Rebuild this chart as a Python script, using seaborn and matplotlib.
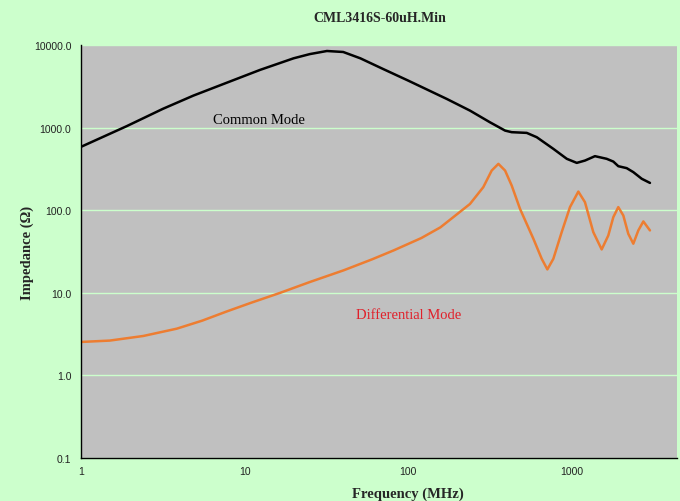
import matplotlib
matplotlib.use("Agg")
import matplotlib.pyplot as plt
import matplotlib.ticker as mticker
import seaborn as sns
import pandas as pd

# ---- data ----
cm_freq = [1.0, 1.9, 3.17, 4.86, 7.5, 12.4, 19.9, 25, 31.8, 40, 50.9, 70, 100, 172,
           238, 315, 390, 428, 529, 609, 769, 929, 1069, 1200, 1381, 1628, 1788,
           1918, 2158, 2369, 2668, 2994]
cm_imp = [585, 1040, 1690, 2440, 3400, 4990, 6900, 7760, 8460, 8230, 6900, 5130, 3700,
          2220, 1606, 1161, 920, 880, 863, 765, 553, 419, 374, 399, 451, 419, 388,
          341, 323, 289, 240, 214]

dm_freq = [1.0, 1.5, 2.4, 3.85, 5.5, 7.78, 11, 16.5, 25, 40.2, 60, 81.3, 120, 157,
           238, 287, 323, 355, 390, 428, 481, 581, 653, 707, 769, 865, 972, 1093,
           1200, 1349, 1518, 1666, 1788, 1918, 2058, 2207, 2369, 2542, 2728, 2994]
dm_imp = [2.54, 2.64, 3.0, 3.68, 4.6, 5.95, 7.6, 10.0, 13.5, 18.7, 25.4, 32.6, 46, 62,
          119, 190, 302, 364, 302, 199, 104, 45, 25.8, 19.2, 25.8, 54.3, 109, 168,
          125, 54.3, 33.5, 49.4, 82.4, 109, 86.3, 51.8, 39.3, 56.9, 73.1, 56.9]

title = "CML3416S-60uH.Min"
xlabel = "Frequency (MHz)"
ylabel = "Impedance (\u03a9)"
yticks = [0.1, 1, 10, 100, 1000, 10000]
ytick_labels = ["0.1", "1.0", "10.0", "100.0", "1000.0", "10000.0"]
xticks = [1, 10, 100, 1000]
xtick_labels = ["1", "10", "100", "1000"]

cm = pd.DataFrame({"freq": cm_freq, "imp": cm_imp})
dm = pd.DataFrame({"freq": dm_freq, "imp": dm_imp})

sns.set_style("white")
plt.rcParams["font.family"] = ["Liberation Serif", "DejaVu Serif"]

fig = plt.figure(figsize=(6.8, 5.02), dpi=100)
fig.patch.set_facecolor("#CCFFCC")
ax = fig.add_axes([81 / 680, 1 - 459 / 502, (677 - 81) / 680, (459 - 46) / 502])
ax.set_facecolor("#C0C0C0")

ax.set_xscale("log")
ax.set_yscale("log")
ax.set_xlim(1, 10 ** (596 / 163.67))
ax.set_ylim(0.1, 10000)

ax.set_yticks(yticks)
ax.set_yticklabels(ytick_labels)
ax.set_xticks(xticks)
ax.set_xticklabels(xtick_labels)
ax.yaxis.set_minor_locator(mticker.NullLocator())
ax.xaxis.set_minor_locator(mticker.NullLocator())
ax.tick_params(axis="both", length=0, labelsize=7.5, labelcolor="#222222")
ax.tick_params(axis="y", pad=7)
ax.tick_params(axis="x", pad=6)
for lab in ax.get_xticklabels() + ax.get_yticklabels():
    lab.set_fontfamily(["Liberation Sans", "DejaVu Sans"])

ax.grid(True, axis="y", color="#CCFFCC", linewidth=1.0)
ax.grid(False, axis="x")
ax.set_axisbelow(True)

sns.lineplot(data=cm, x="freq", y="imp", ax=ax, color="black", linewidth=1.8,
             solid_joinstyle="round", solid_capstyle="round")
sns.lineplot(data=dm, x="freq", y="imp", ax=ax, color="#ED7D31", linewidth=1.8,
             solid_joinstyle="round", solid_capstyle="round")

for s in ["top", "right"]:
    ax.spines[s].set_visible(False)
for s in ["left", "bottom"]:
    ax.spines[s].set_color("black")
    ax.spines[s].set_linewidth(1.0)

ax.set_xlabel("")
ax.set_ylabel("")

ax.text(6.4, 1270, "Common Mode", color="black", fontsize=10.5, va="center", ha="left")
ax.text(48, 5.43, "Differential Mode", color="#E0202A", fontsize=10.5, va="center", ha="left")

fig.text(380 / 680, 1 - 18 / 502, title, ha="center", va="center",
         fontsize=10, fontweight="bold")
fig.text(408 / 680, 1 - 494 / 502, xlabel, ha="center", va="center",
         fontsize=10.5, fontweight="bold")
fig.text(27 / 680, 1 - 253 / 502, ylabel, ha="center", va="center",
         fontsize=10.5, fontweight="bold", rotation=90)

fig.savefig("out.png", dpi=100, facecolor=fig.get_facecolor())
